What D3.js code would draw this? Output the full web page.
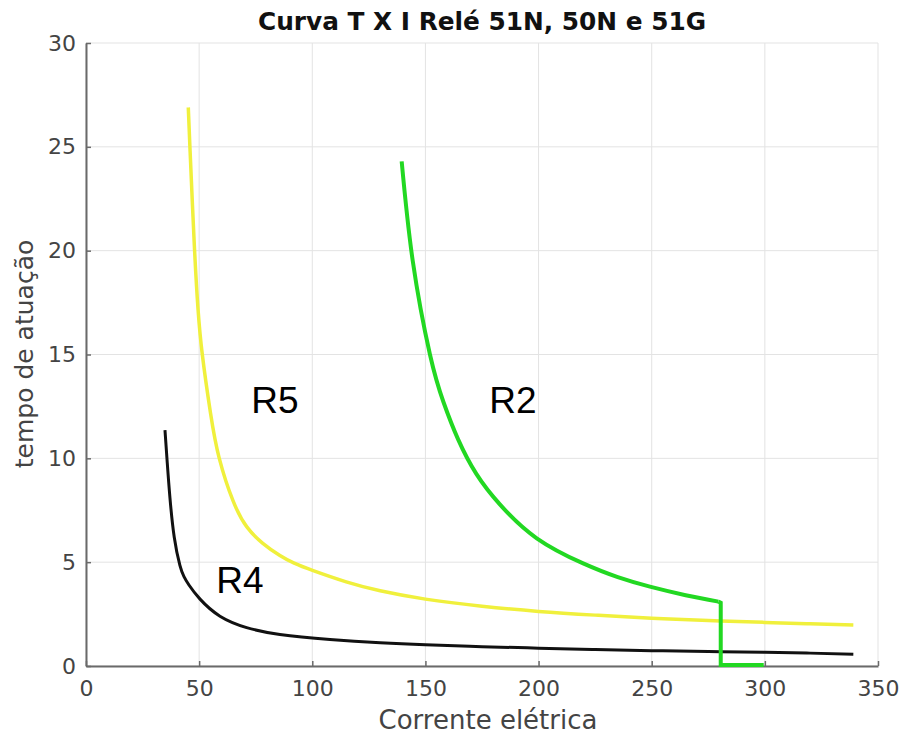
<!DOCTYPE html>
<html>
<head>
<meta charset="utf-8">
<script src="https://cdn.jsdelivr.net/npm/d3@7"></script>
<style>
  body { margin: 0; background: #fff; }
  text { font-family: "DejaVu Sans", sans-serif; }
</style>
</head>
<body>
<svg width="906" height="740"></svg>
<script>
(function () {

  // values (current, operating time)
  const r5Current = [45.2, 46.0, 47.9, 49.5, 51.4, 55.0, 58.9, 65.0, 71.0, 78.0, 85.7, 92.0, 100.4, 115, 130, 150, 175, 200, 225, 250, 275, 300, 320, 339.1];
  const r5Time = [26.9, 24.8, 20.2, 17.2, 15.0, 12.2, 10.0, 7.95, 6.71, 5.92, 5.32, 4.95, 4.59, 4.05, 3.62, 3.22, 2.88, 2.63, 2.45, 2.30, 2.19, 2.10, 2.03, 1.97];

  const r4Current = [34.9, 35.9, 37.1, 39.0, 41.5, 43.3, 45.5, 50.4, 59.2, 71.0, 85.7, 107.8, 130, 150, 175, 200, 225, 250, 275, 300, 320, 339.1];
  const r4Time = [11.36, 9.8, 8.1, 6.2, 4.85, 4.3, 3.9, 3.22, 2.4, 1.85, 1.52, 1.28, 1.12, 1.02, 0.93, 0.86, 0.79, 0.74, 0.70, 0.66, 0.62, 0.56];

  const r2Current = [139.5, 144.4, 152.0, 158.0, 164.5, 172.5, 182.9, 199.2, 219.7, 235, 249.2, 265, 279.5];
  const r2Time = [24.3, 19.5, 15.0, 12.7, 10.9, 9.25, 7.78, 6.15, 4.94, 4.28, 3.82, 3.41, 3.10];
  // instantaneous element: drop to zero and flat up to 300
  const r2StepCurrent = [279.5, 280.5, 280.5, 299.5];
  const r2StepTime = [3.10, 3.05, 0.05, 0.05];

  const xTicks = [0, 50, 100, 150, 200, 250, 300, 350];
  const yTicks = [0, 5, 10, 15, 20, 25, 30];

  const curveNames = ["R5", "R2", "R4"];
  const labelCurrent = [83.5, 188.7, 68];
  const labelTime = [12.2, 12.2, 3.5];

  const svg = d3.select("svg");

  const x = d3.scaleLinear().domain([0, 350]).range([86, 878]);
  const y = d3.scaleLinear().domain([0, 30]).range([666, 43]);

  // grid
  svg.append("g")
    .selectAll("line")
    .data(xTicks)
    .enter()
    .append("line")
    .attr("x1", d => x(d)).attr("x2", d => x(d))
    .attr("y1", y(0)).attr("y2", y(30))
    .attr("stroke", "#e3e3e3").attr("stroke-width", 1);

  svg.append("g")
    .selectAll("line")
    .data(yTicks)
    .enter()
    .append("line")
    .attr("x1", x(0)).attr("x2", x(350))
    .attr("y1", d => y(d)).attr("y2", d => y(d))
    .attr("stroke", "#e3e3e3").attr("stroke-width", 1);

  // axes, ticks pointing inwards
  const xAxis = svg.append("g")
    .attr("transform", `translate(0,${y(0)})`)
    .call(d3.axisBottom(x).tickValues(xTicks).tickSizeInner(-5).tickSizeOuter(0).tickPadding(14));

  const yAxis = svg.append("g")
    .attr("transform", `translate(${x(0)},0)`)
    .call(d3.axisLeft(y).tickValues(yTicks).tickSizeInner(-5).tickSizeOuter(0).tickPadding(10));

  [xAxis, yAxis].forEach(ax => {
    ax.select(".domain").attr("stroke", "#6a6a6a").attr("stroke-width", 2);
    ax.selectAll(".tick line").attr("stroke", "#6a6a6a").attr("stroke-width", 1.5);
    ax.selectAll(".tick text")
      .attr("fill", "#444")
      .style("font-size", "22px")
      .style("font-family", "DejaVu Sans");
  });

  // natural spline keeps the relay curves smooth through the read points
  const line = d3.line()
    .x(d => x(d[0]))
    .y(d => y(d[1]))
    .curve(d3.curveNatural);

  const straight = d3.line().x(d => x(d[0])).y(d => y(d[1]));

  svg.append("path")
    .datum(d3.zip(r4Current, r4Time))
    .attr("d", line)
    .attr("fill", "none").attr("stroke", "#111").attr("stroke-width", 3);

  svg.append("path")
    .datum(d3.zip(r5Current, r5Time))
    .attr("d", line)
    .attr("fill", "none").attr("stroke", "#f0f03c").attr("stroke-width", 3.5);

  svg.append("path")
    .datum(d3.zip(r2Current, r2Time))
    .attr("d", line)
    .attr("fill", "none").attr("stroke", "#22d822").attr("stroke-width", 4);

  svg.append("path")
    .datum(d3.zip(r2StepCurrent, r2StepTime))
    .attr("d", straight)
    .attr("fill", "none").attr("stroke", "#22d822").attr("stroke-width", 4);

  // curve names
  svg.append("g")
    .selectAll("text")
    .data(curveNames)
    .enter()
    .append("text")
    .attr("x", (d, i) => x(labelCurrent[i]))
    .attr("y", (d, i) => y(labelTime[i]))
    .attr("text-anchor", "middle")
    .style("font-family", "'Liberation Sans', Arial, sans-serif")
    .style("font-size", "37px")
    .attr("fill", "#000")
    .text(d => d);

  // title and axis labels
  svg.append("text")
    .attr("x", 482).attr("y", 30)
    .attr("text-anchor", "middle")
    .attr("textLength", 448).attr("lengthAdjust", "spacingAndGlyphs")
    .style("font-size", "24px").style("font-weight", "bold")
    .attr("fill", "#111")
    .text("Curva T X I Relé 51N, 50N e 51G");

  svg.append("text")
    .attr("x", 488).attr("y", 729)
    .attr("text-anchor", "middle")
    .style("font-size", "26px")
    .attr("fill", "#444")
    .text("Corrente elétrica");

  svg.append("text")
    .attr("transform", "translate(33,354) rotate(-90)")
    .attr("text-anchor", "middle")
    .style("font-size", "25px")
    .attr("fill", "#444")
    .text("tempo de atuação");
})();
</script>
</body>
</html>
